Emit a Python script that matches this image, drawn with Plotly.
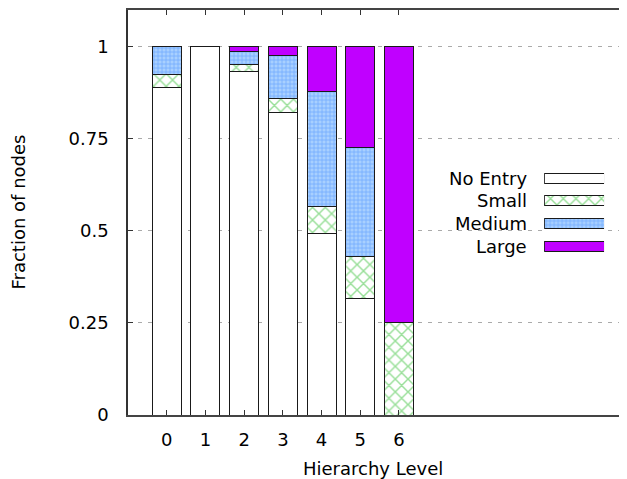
import plotly.graph_objects as go

levels = [0, 1, 2, 3, 4, 5, 6]
tick_labels = ["0", "1", "2", "3", "4", "5", "6"]
no_entry = [0.889, 1.0, 0.932, 0.821, 0.492, 0.317, 0.0]
small = [0.037, 0.0, 0.019, 0.040, 0.074, 0.113, 0.25]
medium = [0.074, 0.0, 0.036, 0.116, 0.312, 0.297, 0.0]
large = [0.0, 0.0, 0.013, 0.023, 0.122, 0.273, 0.75]
series_names = ["No Entry", "Small", "Medium", "Large"]

FONT = "DejaVu Sans"
line_style = dict(color="#1a1a1a", width=1)
styles = {
    "No Entry": dict(color="white", line=line_style),
    "Small": dict(color="white", line=line_style,
                  pattern=dict(shape="x", fgcolor="#33c033", bgcolor="white",
                               size=9, solidity=0.3, fillmode="overlay")),
    "Medium": dict(color="#a8d0ff", line=line_style,
                   pattern=dict(shape="+", fgcolor="#3a86ff", bgcolor="#a8d0ff",
                                size=4, solidity=0.35, fillmode="overlay")),
    "Large": dict(color="#c000ff", line=line_style),
}

fig = go.Figure()
for name, vals in zip(series_names, [no_entry, small, medium, large]):
    fig.add_trace(go.Bar(x=levels, y=vals, name=name, marker=styles[name],
                         showlegend=False))

# legend samples on a helper axis
for i, name in enumerate(series_names):
    fig.add_trace(go.Bar(x=[1], y=[i], base=[0], orientation="h", xaxis="x2", yaxis="y2",
                         marker=styles[name], width=0.44, showlegend=False,
                         hoverinfo="skip"))
    fig.add_annotation(text=name, xref="paper", yref="y2", x=0.8036, y=i,
                       xanchor="right", yanchor="middle", showarrow=False,
                       font=dict(family=FONT, size=18, color="black"))

# page body has an 8px margin; size the figure to fit the 627x479 window
W, H = 619, 471
L, T, B = 120, 0, 64
fig.update_layout(
    width=W, height=H,
    margin=dict(l=L, r=0, t=T, b=B),
    barmode="stack", bargap=0.25,
    plot_bgcolor="white", paper_bgcolor="white",
    font=dict(family=FONT, size=18, color="black"),
    xaxis=dict(range=[-1, 11.89], tickvals=levels, ticktext=tick_labels,
               ticks="inside", ticklen=5, tickcolor="#333",
               showline=True, linecolor="#444", linewidth=1.5, mirror="ticks",
               showgrid=False, zeroline=False, ticklabelstandoff=8),
    yaxis=dict(range=[0, 1.1], tickvals=[0, 0.25, 0.5, 0.75, 1],
               ticktext=["0", "0.25", "0.5", "0.75", "1"],
               ticks="inside", ticklen=5, tickcolor="#333",
               showline=True, linecolor="#333", linewidth=1.5, mirror=False,
               showgrid=True, gridcolor="#aaaaaa", griddash="4px,6px", gridwidth=1,
               zeroline=False, ticklabelstandoff=14),
    xaxis2=dict(domain=[0.834, 0.954], range=[0, 1], visible=False, anchor="y2"),
    yaxis2=dict(domain=[0.389, 0.6127], range=[3.5, -0.5], visible=False, anchor="x2"),
)

fig.add_annotation(text="Hierarchy Level", xref="paper", yref="paper", x=0.49, y=0,
                   yshift=-53, xanchor="center", yanchor="middle", showarrow=False,
                   font=dict(family=FONT, size=18))
fig.add_annotation(text="Fraction of nodes", xref="paper", yref="paper", x=0, y=0.5,
                   xshift=-(L - 10), xanchor="center", yanchor="middle", textangle=-90,
                   showarrow=False, font=dict(family=FONT, size=18))

fig.write_html("out.html")
